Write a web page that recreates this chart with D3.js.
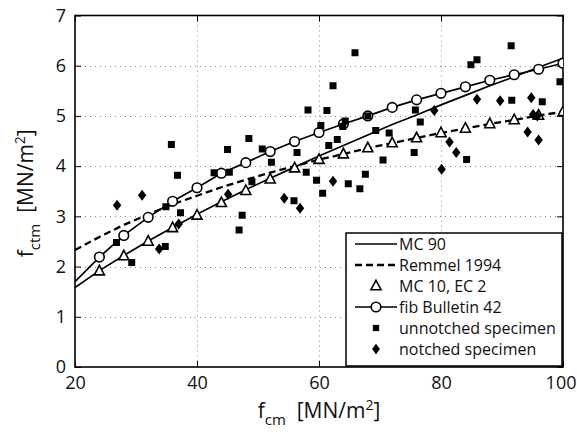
<!DOCTYPE html>
<html>
<head>
<meta charset="utf-8">
<script src="https://cdn.jsdelivr.net/npm/d3@7"></script>
<style>
  html, body { margin: 0; padding: 0; background: #fff; }
  svg { display: block; }
  text { font-family: "Open Sans", "Noto Sans", sans-serif; fill: #111; }
</style>
</head>
<body>
<svg id="chart" width="577" height="435"></svg>
<script>
// ---------- data ----------
const xTicks = [20, 40, 60, 80, 100];
const yTicks = [0, 1, 2, 3, 4, 5, 6, 7];

const curveFcm = [20, 24, 28, 32, 36, 40, 44, 48, 52, 56, 60, 64, 68, 72, 76, 80, 84, 88, 92, 96, 100];
const mc90     = [1.58, 1.92, 2.22, 2.51, 2.78, 3.04, 3.29, 3.53, 3.76, 3.98, 4.20, 4.41, 4.62, 4.83, 5.02, 5.22, 5.41, 5.60, 5.78, 5.97, 6.15];
const remmel   = [2.33, 2.59, 2.83, 3.04, 3.24, 3.41, 3.58, 3.73, 3.87, 4.00, 4.13, 4.24, 4.36, 4.46, 4.56, 4.66, 4.75, 4.84, 4.92, 5.01, 5.08];
const fib42    = [1.70, 2.19, 2.62, 2.98, 3.30, 3.57, 3.86, 4.07, 4.29, 4.49, 4.67, 4.84, 5.00, 5.17, 5.32, 5.45, 5.58, 5.71, 5.82, 5.93, 6.05];

const mc10Fcm  = [24, 28, 32, 36, 40, 44, 48, 52, 56, 60, 64, 68, 72, 76, 80, 84, 88, 92, 96, 100];
const mc10     = [1.91, 2.21, 2.50, 2.77, 3.02, 3.27, 3.51, 3.74, 3.96, 4.13, 4.24, 4.36, 4.46, 4.56, 4.66, 4.75, 4.84, 4.92, 5.01, 5.08];

const unnotchedFcm = [26.8, 29.3, 34.8, 34.9, 35.8, 36.8, 37.3, 42.8, 45.0, 45.3, 46.9, 47.4, 48.5, 49.0, 50.7, 52.2, 55.9, 56.4, 57.9, 58.2, 59.6, 60.3, 60.6, 61.3, 61.6, 62.3, 63.0, 63.9, 64.3, 64.8, 65.9, 66.7, 67.6, 68.0, 69.3, 70.5, 71.5, 75.6, 75.8, 76.6, 84.2, 84.9, 85.9, 91.5, 91.6, 96.6, 99.5];
const unnotchedFct = [2.48, 2.08, 2.40, 3.19, 4.43, 3.82, 3.07, 3.87, 4.33, 3.88, 2.73, 3.02, 4.55, 3.69, 4.34, 4.08, 3.31, 4.27, 3.88, 5.12, 3.72, 4.81, 3.46, 5.11, 4.41, 5.60, 4.53, 4.79, 4.90, 3.65, 6.26, 3.55, 3.84, 5.00, 4.71, 4.12, 4.66, 4.27, 5.12, 4.88, 4.13, 6.02, 6.12, 6.40, 5.31, 5.28, 5.68];

const notchedFcm = [26.9, 31.0, 33.8, 37.0, 45.1, 54.3, 56.9, 62.3, 78.9, 80.1, 81.4, 82.5, 85.9, 89.7, 94.2, 94.8, 95.1, 95.8, 96.0];
const notchedFct = [3.22, 3.42, 2.35, 2.85, 3.44, 3.36, 3.16, 3.70, 5.11, 3.94, 4.48, 4.27, 5.33, 5.30, 4.68, 5.36, 5.03, 5.00, 4.52];

const legendLabels = ["MC 90", "Remmel 1994", "MC 10, EC 2", "fib Bulletin 42", "unnotched specimen", "notched specimen"];

// ---------- layout ----------
const svg = d3.select("#chart");
const pL = 75, pR = 563, pT = 15.5, pB = 367;

const x = d3.scaleLinear().domain([20, 100]).range([pL, pR]);
const y = d3.scaleLinear().domain([0, 7]).range([pB, pT]);

// custom symbols
const squareSym = { draw(c, s) { const h = Math.sqrt(s) / 2; c.rect(-h, -h, 2 * h, 2 * h); } };
const diamondSym = { draw(c, s) { const w = Math.sqrt(s) * 0.42, h = Math.sqrt(s) * 0.55;
  c.moveTo(0, -h); c.lineTo(w, 0); c.lineTo(0, h); c.lineTo(-w, 0); c.closePath(); } };
const triSym = { draw(c, s) { const r = Math.sqrt(s) / 2;
  c.moveTo(0, -r * 1.15); c.lineTo(r, r * 0.75); c.lineTo(-r, r * 0.75); c.closePath(); } };

// clip
svg.append("defs").append("clipPath").attr("id", "plotClip")
  .append("rect").attr("x", pL).attr("y", pT).attr("width", pR - pL).attr("height", pB - pT);

// grid
const grid = svg.append("g").attr("stroke", "#8a8a8a").attr("stroke-width", 1).attr("stroke-dasharray", "1,4");
grid.selectAll("line.h").data(yTicks.filter(d => d > 0 && d < 7)).join("line")
  .attr("x1", pL).attr("x2", pR).attr("y1", d => Math.round(y(d)) + 0.5).attr("y2", d => Math.round(y(d)) + 0.5);
grid.selectAll("line.v").data(xTicks.filter(d => d > 20 && d < 100)).join("line")
  .attr("y1", pT).attr("y2", pB).attr("x1", d => Math.round(x(d)) + 0.5).attr("x2", d => Math.round(x(d)) + 0.5);

// axes
const fontSize = 18;
const fmt = d3.format("d");
const axB = svg.append("g").attr("transform", `translate(0,${pB})`)
  .call(d3.axisBottom(x).tickValues(xTicks).tickFormat(fmt).tickSizeInner(-6).tickSizeOuter(0).tickPadding(9));
const axT = svg.append("g").attr("transform", `translate(0,${pT})`)
  .call(d3.axisTop(x).tickValues(xTicks).tickSizeInner(-6).tickSizeOuter(0).tickFormat(""));
const axL = svg.append("g").attr("transform", `translate(${pL},0)`)
  .call(d3.axisLeft(y).tickValues(yTicks).tickFormat(fmt).tickSizeInner(-6).tickSizeOuter(0).tickPadding(9));
const axR = svg.append("g").attr("transform", `translate(${pR},0)`)
  .call(d3.axisRight(y).tickValues(yTicks).tickSizeInner(-6).tickSizeOuter(0).tickFormat(""));
[axB, axT, axL, axR].forEach(a => {
  a.select(".domain").remove();
  a.selectAll(".tick line").attr("stroke", "#000").attr("stroke-width", 1);
  a.selectAll("text").attr("font-size", fontSize).attr("font-family", "'Open Sans', 'Noto Sans', sans-serif").attr("fill", "#111");
});
// keep the last x label inside the window
axB.selectAll(".tick text").filter(d => d === 100).attr("text-anchor", "end").attr("x", 13);

// frame
svg.append("rect").attr("x", pL).attr("y", pT).attr("width", pR - pL).attr("height", pB - pT)
  .attr("fill", "none").attr("stroke", "#000").attr("stroke-width", 1.6);

// curves
const plot = svg.append("g").attr("clip-path", "url(#plotClip)");
const line = d3.line().x(d => x(d[0])).y(d => y(d[1]));
plot.append("path").datum(curveFcm.map((f, i) => [f, mc90[i]]))
  .attr("d", line).attr("fill", "none").attr("stroke", "#000").attr("stroke-width", 1.7);
plot.append("path").datum(curveFcm.map((f, i) => [f, remmel[i]]))
  .attr("d", line).attr("fill", "none").attr("stroke", "#000").attr("stroke-width", 2.3).attr("stroke-dasharray", "7,4");
plot.append("path").datum(curveFcm.map((f, i) => [f, fib42[i]]))
  .attr("d", line).attr("fill", "none").attr("stroke", "#000").attr("stroke-width", 1.7);

// fib circles
plot.selectAll("circle.fib").data(curveFcm.map((f, i) => [f, fib42[i]]).filter(d => d[0] >= 24)).join("circle")
  .attr("cx", d => x(d[0])).attr("cy", d => y(d[1])).attr("r", 4.8)
  .attr("fill", "#fff").attr("stroke", "#000").attr("stroke-width", 1.6);

// MC10 triangles
plot.selectAll("path.tri").data(mc10Fcm.map((f, i) => [f, mc10[i]])).join("path")
  .attr("transform", d => `translate(${x(d[0])},${y(d[1])})`)
  .attr("d", d3.symbol().type(triSym).size(100)())
  .attr("fill", "#fff").attr("stroke", "#000").attr("stroke-width", 1.6);

// scatter points
plot.selectAll("path.sq").data(unnotchedFcm.map((f, i) => [f, unnotchedFct[i]])).join("path")
  .attr("transform", d => `translate(${x(d[0])},${y(d[1])})`)
  .attr("d", d3.symbol().type(squareSym).size(49)()).attr("fill", "#000");
plot.selectAll("path.dm").data(notchedFcm.map((f, i) => [f, notchedFct[i]])).join("path")
  .attr("transform", d => `translate(${x(d[0])},${y(d[1])})`)
  .attr("d", d3.symbol().type(diamondSym).size(100)()).attr("fill", "#000");

// legend
const lg = svg.append("g");
lg.append("rect").attr("x", 346).attr("y", 233).attr("width", 216).attr("height", 133)
  .attr("fill", "#fff").attr("stroke", "#000").attr("stroke-width", 1.5);
const rowY = i => 244 + i * 21;
const sx1 = 355, sx2 = 397, sxm = 376;
lg.append("line").attr("x1", sx1).attr("x2", sx2).attr("y1", rowY(0)).attr("y2", rowY(0)).attr("stroke", "#000").attr("stroke-width", 1.7);
lg.append("line").attr("x1", sx1).attr("x2", sx2).attr("y1", rowY(1)).attr("y2", rowY(1)).attr("stroke", "#000").attr("stroke-width", 2.3).attr("stroke-dasharray", "7,4");
lg.append("path").attr("transform", `translate(${sxm},${rowY(2)})`).attr("d", d3.symbol().type(triSym).size(100)())
  .attr("fill", "#fff").attr("stroke", "#000").attr("stroke-width", 1.6);
lg.append("line").attr("x1", sx1).attr("x2", sx2).attr("y1", rowY(3)).attr("y2", rowY(3)).attr("stroke", "#000").attr("stroke-width", 1.7);
lg.append("circle").attr("cx", sxm).attr("cy", rowY(3)).attr("r", 4.8).attr("fill", "#fff").attr("stroke", "#000").attr("stroke-width", 1.6);
lg.append("path").attr("transform", `translate(${sxm},${rowY(4)})`).attr("d", d3.symbol().type(squareSym).size(40)()).attr("fill", "#000");
lg.append("path").attr("transform", `translate(${sxm},${rowY(5)})`).attr("d", d3.symbol().type(diamondSym).size(90)()).attr("fill", "#000");
lg.selectAll("text.lab").data(legendLabels).join("text")
  .attr("x", 399).attr("y", (d, i) => rowY(i)).attr("dy", "0.35em")
  .attr("font-size", 16).attr("fill", "#111").text(d => d);

// axis titles
const xt = svg.append("text").attr("x", (pL + pR) / 2).attr("y", 418).attr("text-anchor", "middle")
  .attr("font-size", 21).attr("fill", "#111");
xt.append("tspan").text("f");
xt.append("tspan").attr("font-size", 15).attr("dy", 7).text("cm");
xt.append("tspan").attr("dy", -7).text("\u00a0\u00a0[MN/m");
xt.append("tspan").attr("font-size", 14).attr("dy", -8).text("2");
xt.append("tspan").attr("dy", 8).text("]");

const yt = svg.append("text").attr("transform", `translate(33,${(pT + pB) / 2 + 2}) rotate(-90)`)
  .attr("text-anchor", "middle").attr("font-size", 21).attr("fill", "#111");
yt.append("tspan").text("f");
yt.append("tspan").attr("font-size", 15).attr("dy", 7).text("ctm");
yt.append("tspan").attr("dy", -7).text("\u00a0\u00a0[MN/m");
yt.append("tspan").attr("font-size", 14).attr("dy", -8).text("2");
yt.append("tspan").attr("dy", 8).text("]");
</script>
</body>
</html>
